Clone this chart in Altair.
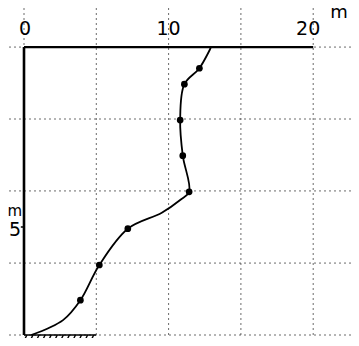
import altair as alt
import pandas as pd

# ---- data ----
# observed points (speed m/s, height m)
obs_speed = [3.90, 5.21, 7.18, 11.42, 10.98, 10.80, 11.09, 12.13]
obs_height = [1.61, 3.24, 4.92, 6.63, 8.30, 9.95, 11.61, 12.35]
# drawn profile curve
curve_speed = [0.5, 2.70, 3.90, 5.21, 7.18, 9.53, 10.80, 11.42, 10.98, 10.80, 11.09, 12.13, 12.94]
curve_height = [0.0, 0.69, 1.61, 3.24, 4.92, 5.66, 6.25, 6.63, 8.30, 9.95, 11.61, 12.35, 13.33]
# graph-paper grid
grid_x = [0, 5, 10, 15, 20]
grid_y = [0, 3.33, 6.67, 10.0, 13.33]
# axis labels
x_tick_values = [0, 10, 20]
x_tick_labels = ["0", "10", "20"]
x_label_shift = [1, 0, -5]
y_tick_values = [5]
y_tick_labels = ["5"]
x_unit = "m s⁻¹"
y_unit = "m"
x_axis_end = 20
y_axis_top = 13.33
ground_end = 5

# ---- layout ----
W, H = 343, 330
PX_U = 14.46   # px per m/s
PX_M = 21.6    # px per m
xmin = -16 / PX_U
xmax = xmin + W / PX_U
ymin = -3 / PX_M
ymax = ymin + H / PX_M

xs = alt.Scale(domain=[xmin, xmax], nice=False, zero=False)
ys = alt.Scale(domain=[ymin, ymax], nice=False, zero=False)
FONT = "DejaVu Sans"

obs = pd.DataFrame({"u": obs_speed, "z": obs_height})
curve = pd.DataFrame({"u": curve_speed, "z": curve_height, "o": list(range(len(curve_speed)))})
gx = pd.DataFrame({"u": grid_x})
gy = pd.DataFrame({"z": grid_y})
xt = pd.DataFrame({"u": x_tick_values, "t": x_tick_labels, "z": [y_axis_top] * len(x_tick_values),
                   "s": x_label_shift})
yt = pd.DataFrame({"u": [0] * len(y_tick_values), "z": y_tick_values, "t": y_tick_labels})
frame = pd.DataFrame({"u0": [0], "u1": [x_axis_end], "z0": [0], "z1": [y_axis_top], "g": [ground_end]})

grid_style = dict(stroke="#3a3a3a", strokeWidth=1, strokeDash=[2, 3], opacity=0.75)

vgrid = alt.Chart(gx).mark_rule(**grid_style).encode(x=alt.X("u:Q", scale=xs, axis=None))
hgrid = alt.Chart(gy).mark_rule(**grid_style).encode(y=alt.Y("z:Q", scale=ys, axis=None))

top_axis = alt.Chart(frame).mark_rule(color="black", strokeWidth=2.2).encode(
    x=alt.X("u0:Q", scale=xs, axis=None), x2="u1:Q", y=alt.Y("z1:Q", scale=ys, axis=None))
left_axis = alt.Chart(frame).mark_rule(color="black", strokeWidth=2.6).encode(
    x=alt.X("u0:Q", scale=xs, axis=None), y=alt.Y("z0:Q", scale=ys, axis=None), y2="z1:Q")
ground = alt.Chart(frame).mark_rule(color="black", strokeWidth=1.5).encode(
    x=alt.X("u0:Q", scale=xs, axis=None), x2="g:Q", y=alt.Y("z0:Q", scale=ys, axis=None))

hatch = alt.Chart(alt.sequence(0.2, ground_end, 0.42, as_="h")).transform_calculate(
    h2="datum.h - 0.22", zt="0", zb="-0.3"
).mark_rule(color="black", strokeWidth=1.4).encode(
    x=alt.X("h:Q", scale=xs, axis=None), x2="h2:Q",
    y=alt.Y("zt:Q", scale=ys, axis=None), y2="zb:Q")

ytick = alt.Chart(yt).transform_calculate(u2="-0.22").mark_rule(color="black", strokeWidth=1.5).encode(
    x=alt.X("u:Q", scale=xs, axis=None), x2="u2:Q", y=alt.Y("z:Q", scale=ys, axis=None))

line = alt.Chart(curve).mark_line(color="black", strokeWidth=1.8, interpolate="catmull-rom").encode(
    x=alt.X("u:Q", scale=xs, axis=None), y=alt.Y("z:Q", scale=ys, axis=None), order="o:Q")
dots = alt.Chart(obs).mark_circle(color="black", size=45, opacity=1).encode(
    x=alt.X("u:Q", scale=xs, axis=None), y=alt.Y("z:Q", scale=ys, axis=None))

xlab = alt.Chart(xt).transform_calculate(us="datum.u + datum.s / %f" % PX_U).mark_text(
    font=FONT, fontSize=19, baseline="alphabetic", align="center", dy=-12, color="black").encode(
    x=alt.X("us:Q", scale=xs, axis=None), y=alt.Y("z:Q", scale=ys, axis=None), text="t:N")
xunit = alt.Chart(pd.DataFrame({"u": [x_axis_end], "z": [y_axis_top], "t": [x_unit]})).mark_text(
    font=FONT, fontSize=18, baseline="alphabetic", align="left", dx=17, dy=-29, color="black").encode(
    x=alt.X("u:Q", scale=xs, axis=None), y=alt.Y("z:Q", scale=ys, axis=None), text="t:N")
ylab = alt.Chart(yt).mark_text(font=FONT, fontSize=19, baseline="middle", align="right", dx=-3, dy=3, color="black").encode(
    x=alt.X("u:Q", scale=xs, axis=None), y=alt.Y("z:Q", scale=ys, axis=None), text="t:N")
yunit = alt.Chart(pd.DataFrame({"u": [0], "z": y_tick_values[:1], "t": [y_unit]})).mark_text(
    font=FONT, fontSize=15, baseline="alphabetic", align="right", dx=-2, dy=-11, color="black").encode(
    x=alt.X("u:Q", scale=xs, axis=None), y=alt.Y("z:Q", scale=ys, axis=None), text="t:N")

chart = alt.layer(
    vgrid, hgrid, ground, hatch, top_axis, left_axis, ytick, line, dots, xlab, xunit, ylab, yunit
).properties(width=W, height=H, padding=0, autosize="none").configure_view(stroke=None)

chart.save("out.html", embed_options={"renderer": "svg", "actions": False})
